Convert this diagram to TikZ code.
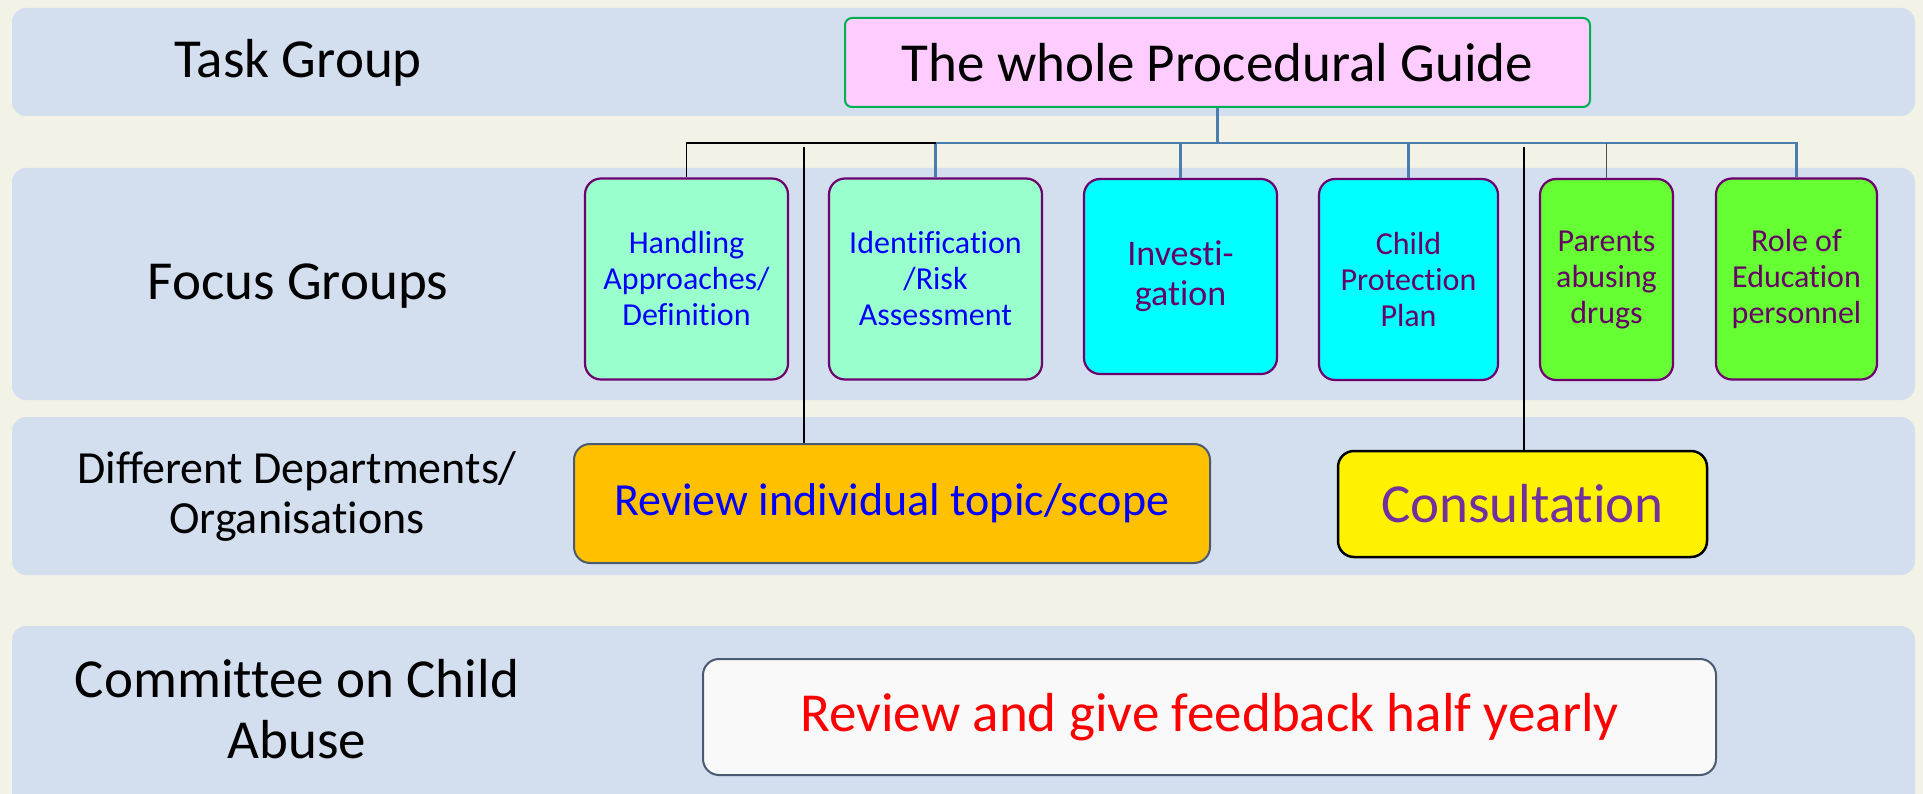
\documentclass[tikz,border=0pt]{standalone}
\usepackage{fontspec}
\setmainfont[Ligatures=CommonOff]{Carlito}
\usetikzlibrary{calc}
\definecolor{paper}{HTML}{F2F2E6}
\definecolor{bandblue}{HTML}{D3DEEE}
\definecolor{guidepink}{HTML}{FFCCFF}
\definecolor{guidegreen}{HTML}{00B050}
\definecolor{mint}{HTML}{99FFCC}
\definecolor{aqua}{HTML}{00FFFF}
\definecolor{lime}{HTML}{66FF33}
\definecolor{edgepurple}{HTML}{700070}
\definecolor{textpurple}{HTML}{660066}
\definecolor{consultpurple}{HTML}{7030A0}
\definecolor{amber}{HTML}{FFC000}
\definecolor{slate}{HTML}{4A5A70}
\definecolor{offwhite}{HTML}{F9F9F9}
\definecolor{linkblue}{HTML}{4A7EAE}
\definecolor{stubgray}{HTML}{505050}

\begin{document}
\begin{tikzpicture}[x=1pt,y=-1pt,
    every node/.style={inner sep=0pt},
    band/.style={fill=bandblue,rounded corners=14pt},
    lane/.style={align=center,font=\fontsize{55}{61}\selectfont},
    focus/.style={draw=edgepurple,line width=2.2pt,rounded corners=16pt,align=center,
      minimum height=201pt,font=\fontsize{32}{36}\selectfont,text=textpurple},
    panel/.style={draw=slate,line width=2pt,rounded corners=16pt,font=\fontsize{55}{61}\selectfont},
    link/.style={draw=linkblue,line width=2.5pt}]
  \useasboundingbox (0,0) rectangle (1923,794);
  \clip (0,0) rectangle (1923,794);
  \fill[paper] (0,0) rectangle (1923,794);
  \foreach \t/\b in {8/116,168/400,417/575,626/810}
    \fill[band] (12,\t) rectangle (1915,\b);

  % row labels
  \node[lane] (tasklbl) at (298,63) {Task Group};
  \node[lane] (focuslbl) at (298,286) {Focus Groups};
  \node[lane,font=\fontsize{46}{50}\selectfont] (deptlbl) at (297,496) {Different Departments/\\Organisations};
  \node[lane] (cttelbl) at (297,709) {Committee on Child\\Abuse};

  % task group
  \node[draw=guidegreen,fill=guidepink,line width=2pt,rounded corners=7pt,minimum width=745pt,
    minimum height=89pt,font=\fontsize{55}{61}\selectfont] (guide) at (1217.5,62.5) {The whole Procedural Guide};

  % focus groups
  \node[focus,fill=mint,text=blue,minimum width=203pt] (handling) at (686.5,279) {Handling\\Approaches/\\Definition};
  \node[focus,fill=mint,text=blue,minimum width=213pt] (ident) at (935.5,279) {Identification\\/Risk\\Assessment};
  \node[focus,fill=aqua,minimum width=193pt,minimum height=195pt,font=\fontsize{36}{40}\selectfont] (invest) at (1180.5,276.5) {Investi-\\gation};
  \node[focus,fill=aqua,minimum width=179pt] (cpp) at (1408.5,279.5) {Child\\Protection\\Plan};
  \node[focus,fill=lime,minimum width=133pt] (parents) at (1606.5,279.5) {Parents\\abusing\\drugs};
  \node[focus,fill=lime,minimum width=161pt] (role) at (1796.5,279) {Role of\\Education\\personnel};

  % departments and committee
  \node[panel,fill=amber,text=blue,minimum width=636pt,minimum height=119pt,
    font=\fontsize{46}{50}\selectfont] (review) at (892,503.5) {Review individual topic/scope};
  \node[draw=black,line width=2.5pt,fill=yellow,rounded corners=16pt,text=consultpurple,minimum width=369pt,
    minimum height=106pt,font=\fontsize{55}{61}\selectfont] (consult) at (1522.5,504) {Consultation};
  \node[panel,fill=offwhite,text=red,minimum width=1013pt,minimum height=116pt] (feedback) at (1209.5,717) {Review and give feedback half yearly};

  % tree
  \coordinate (split) at (1217.5,143);
  \draw[link] (guide.south) -- (split);
  \foreach \b in {ident,invest,cpp,role}
    \draw[link] (split) -| (\b.north);
  \draw[line width=1.5pt] (handling.north) |- (ident.north |- split);
  \draw[line width=1.5pt,stubgray] (parents.north) -- (parents.north |- split);

  \coordinate (revtap) at (804,147);
  \coordinate (contap) at (1524,147);
  \draw[line width=2pt] (revtap) -- (revtap |- review.north);
  \draw[line width=2pt] (contap) -- (contap |- consult.north);
\end{tikzpicture}
\end{document}
